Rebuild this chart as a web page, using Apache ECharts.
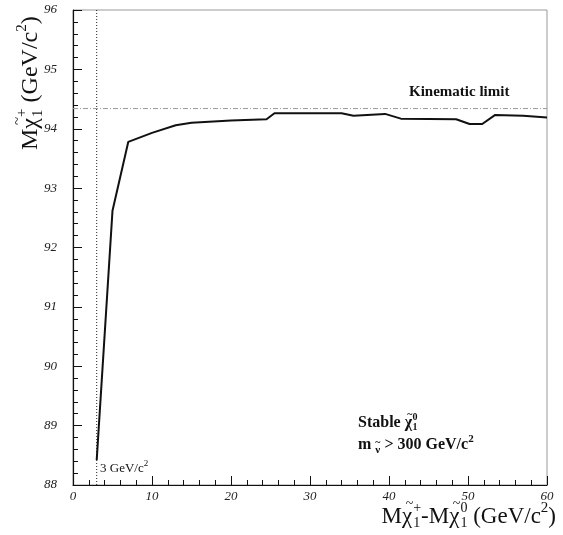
<!DOCTYPE html>
<html><head><meta charset="utf-8">
<script src="https://cdn.jsdelivr.net/npm/echarts@6/dist/echarts.min.js"></script>
<style>html,body{margin:0;padding:0;background:#fff}#c{width:563px;height:535px}</style>
</head><body><div id="c"></div>
<script>
// ---- data ----
const massDiff = [3, 5, 7, 10, 13, 15, 20, 24.5, 25.5, 34, 35.5, 39.5, 41.5, 48.5, 50.2, 51.8, 53.4, 57, 60];
const charginoMass = [88.42, 92.62, 93.78, 93.93, 94.06, 94.10, 94.14, 94.16, 94.26, 94.26, 94.22, 94.25, 94.17, 94.16, 94.08, 94.08, 94.23, 94.22, 94.19];
const kinematicLimit = 94.34;
const minDeltaM = 3;
const xRange = [0, 60];
const yRange = [88, 96];

const SERIF = "'Liberation Serif','Times New Roman',serif";
const ctx = document.createElement('canvas').getContext('2d');
function measure(t, size, weight) { ctx.font = (weight || 'normal') + ' ' + size + 'px ' + SERIF; return ctx.measureText(t).width; }
// parts: {t, s, dy, dx, stack: false|'left'|'center'}
function compose(parts, weight, color) {
  let x = 0, prevX = 0, prevW = 0; const els = [];
  parts.forEach(p => {
    const w = measure(p.t, p.s, weight);
    let px = x;
    if (p.stack === 'left') px = prevX;
    else if (p.stack === 'center') px = prevX + (prevW - w) / 2;
    px += (p.dx || 0);
    els.push({ type: 'text', x: px, y: p.dy || 0, silent: true,
      style: { text: p.t, fontFamily: SERIF, fontSize: p.s, fontWeight: weight || 'normal', fill: color || '#111', verticalAlign: 'middle', align: 'left' } });
    if (p.stack) { x = Math.max(x, px + w); } else { prevX = px; prevW = w; x = px + w; }
  });
  return { els, width: x };
}
function chi(sub, sup, S) {
  const s = Math.round(S * 0.62);
  return [
    { t: 'χ', s: S },
    { t: '~', s: s, dy: -S * 0.55, dx: S * 0.1, stack: 'center' },
    { t: sub, s: s, dy: S * 0.28 },
    { t: sup, s: s, dy: -S * 0.36, stack: 'left' }
  ];
}

const TX = 23, TY = 24;
const xTitle = compose([{ t: 'M', s: TX }].concat(chi('1', '+', TX), [{ t: '-M', s: TX }], chi('1', '0', TX), [
  { t: ' (GeV/c', s: TX }, { t: '2', s: 15, dy: -9 }, { t: ')', s: TX }]));
const yTitle = compose([{ t: 'M', s: TY }].concat(chi('1', '+', TY), [
  { t: ' (GeV/c', s: TY }, { t: '2', s: 15, dy: -9 }, { t: ')', s: TY }]));
const stable = compose([{ t: 'Stable ', s: 16 }].concat(chi('1', '0', 16)), 'bold');
const mnu = compose([{ t: 'm ', s: 16 }, { t: 'ν', s: 11, dy: 5 }, { t: '~', s: 10, dy: -3, stack: 'center' },
  { t: ' > 300 GeV/c', s: 16 }, { t: '2', s: 11, dy: -6 }], 'bold');
const threeGeV = compose([{ t: '3 GeV/c', s: 13 }, { t: '2', s: 9, dy: -5 }]);

const chart = echarts.init(document.getElementById('c'), null, { renderer: 'canvas' });
const labelStyle = { fontFamily: SERIF, fontStyle: 'italic', fontSize: 13, color: '#222' };
chart.setOption({
  animation: false,
  backgroundColor: '#fff',
  grid: { left: 73, right: 16, top: 10, bottom: 50, show: true, borderColor: '#999', borderWidth: 1, backgroundColor: 'transparent' },
  xAxis: {
    type: 'value', min: xRange[0], max: xRange[1], interval: 10,
    axisLine: { show: true, lineStyle: { color: '#111', width: 1.2 } },
    axisTick: { show: true, inside: true, length: 9, lineStyle: { color: '#111' } },
    minorTick: { show: true, splitNumber: 5, length: 5, lineStyle: { color: '#111' } },
    splitLine: { show: false },
    axisLabel: Object.assign({ margin: 5 }, labelStyle)
  },
  yAxis: {
    type: 'value', min: yRange[0], max: yRange[1], interval: 1,
    axisLine: { show: true, lineStyle: { color: '#111', width: 1.2 } },
    axisTick: { show: true, inside: true, length: 9, lineStyle: { color: '#111' } },
    minorTick: { show: true, splitNumber: 5, length: 5, lineStyle: { color: '#111' } },
    splitLine: { show: false },
    axisLabel: Object.assign({ margin: 16 }, labelStyle)
  },
  series: [
    { type: 'line', data: [[xRange[0], kinematicLimit], [xRange[1], kinematicLimit]], symbol: 'none', silent: true,
      lineStyle: { color: '#999', width: 1, type: [5, 2, 1, 2] } },
    { type: 'line', data: [[minDeltaM, yRange[0]], [minDeltaM, yRange[1]]], symbol: 'none', silent: true,
      lineStyle: { color: '#222', width: 1, type: [1, 2] } },
    { type: 'line', data: massDiff.map((x, i) => [x, charginoMass[i]]), symbol: 'none',
      lineStyle: { color: '#111', width: 2 } }
  ],
  graphic: [
    { type: 'group', x: 556 - xTitle.width, y: 517, children: xTitle.els },
    { type: 'group', x: 31, y: 150, rotation: Math.PI / 2, children: yTitle.els },
    { type: 'text', x: 409, y: 92, style: { text: 'Kinematic limit', fontFamily: SERIF, fontWeight: 'bold', fontSize: 15, fill: '#111', verticalAlign: 'middle' } },
    { type: 'group', x: 358, y: 423, children: stable.els },
    { type: 'group', x: 358, y: 445, children: mnu.els },
    { type: 'group', x: 100, y: 469, children: threeGeV.els }
  ]
});
</script>
</body></html>
